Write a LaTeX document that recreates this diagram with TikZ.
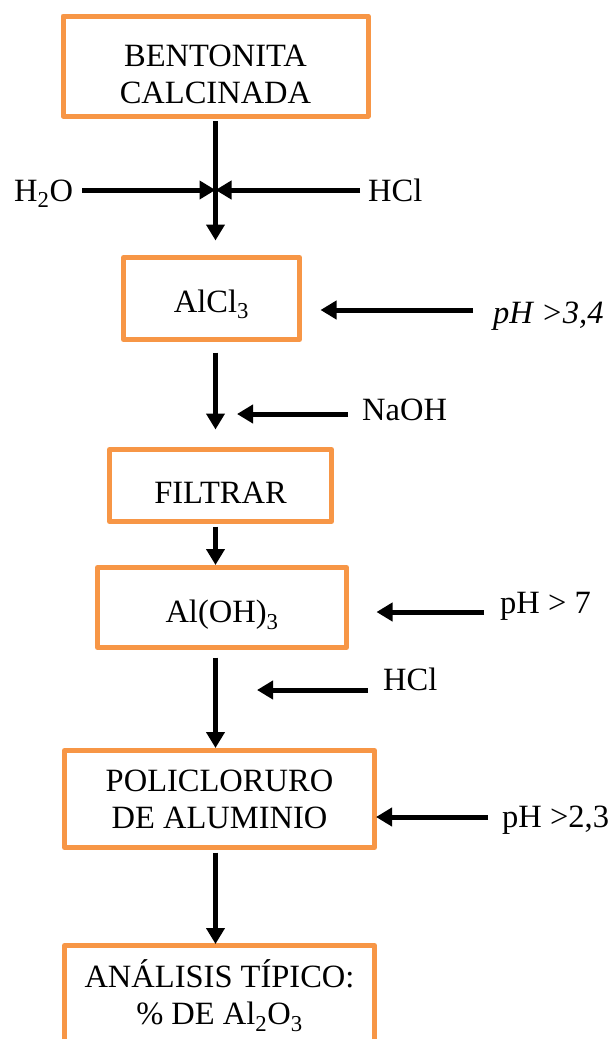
\documentclass[tikz,border=0pt]{standalone}
\usepackage{fontspec}
\setmainfont{Liberation Serif}
\usetikzlibrary{arrows.meta}

\begin{document}
\begin{tikzpicture}[x=1pt, y=-1pt, line join=round,
  font=\fontsize{32.5}{37}\selectfont,
  box/.style={draw=boxorange, line width=5pt, align=center, inner sep=0pt},
  flow/.style={line width=5pt, -{Triangle[length=16pt,width=18pt]}},
  tag/.style={anchor=base west, inner sep=0pt}]

% Colors
\definecolor{boxorange}{RGB}{247,150,70}

% Background
\clip (0,0) rectangle (608,1039);
\fill[white] (0,0) rectangle (608,1039);

% Process boxes
\node[box, minimum width=305, minimum height=100, text height=76pt] (bent) at (215.5,66) {BENTONITA\\CALCINADA};
\node[box, minimum width=176, minimum height=82, text height=27.5pt, text depth=0pt] (alcl) at (211.5,298.5) {AlCl\textsubscript{3}};
\node[box, minimum width=222, minimum height=72, text height=35.5pt] (filt) at (220.5,485.5) {FILTRAR};
\node[box, minimum width=249, minimum height=80, text height=30.5pt, text depth=0pt] (hyd) at (222,607.5) {Al(OH)\textsubscript{3}};
\node[box, minimum width=310, minimum height=97] (poly) at (219.5,799) {POLICLORURO\\DE ALUMINIO};
\node[box, minimum width=310, minimum height=100] (anal) at (219.5,995.5) {ANÁLISIS TÍPICO:\\\% DE Al\textsubscript{2}O\textsubscript{3}};

% Reagents and conditions
\node[tag] (h2o) at (14,201) {H\textsubscript{2}O};
\node[tag] (hcla) at (368,201) {HCl};
\node[tag] (ph34) at (493,323.5) {\textit{pH >3,4}};
\node[tag] (naoh) at (362,420.5) {NaOH};
\node[tag] (ph7) at (500,613.5) {pH > 7};
\node[tag] (hclb) at (383,690) {HCl};
\node[tag] (ph23) at (502,827) {pH >2,3};

% Arrow ends
\coordinate (spine) at (215.5,0);
\coordinate (mix) at (215.5,190);
\coordinate (h2oin) at (82,190);
\coordinate (hclain) at (360,190);
\coordinate (ph34in) at (473,310);
\coordinate (naohin) at (348,414);
\coordinate (ph7in) at (484,612);
\coordinate (hclbin) at (368,690);
\coordinate (ph23in) at (488,817);

% Main line
\draw[flow, shorten <=2.5pt] (bent.south -| spine) -- ([yshift=14.5pt]alcl.north -| spine);
\draw[flow, shorten <=10.5pt] (alcl.south -| spine) -- ([yshift=17.5pt]filt.north -| spine);
\draw[flow, shorten <=2.5pt] (filt.south -| spine) -- (hyd.north -| spine);
\draw[flow, shorten <=7.5pt] (hyd.south -| spine) -- (poly.north -| spine);
\draw[flow, shorten <=2.5pt, shorten >=-1pt] (poly.south -| spine) -- (anal.north -| spine);

% Side feeds
\draw[flow] (h2oin) -- (mix);
\draw[flow] (hclain) -- (mix);
\draw[flow, shorten >=18.5pt] (ph34in) -- (alcl.east |- ph34in);
\draw[flow, shorten >=21.5pt] (naohin) -- (naohin -| spine);
\draw[flow, shorten >=27.5pt] (ph7in) -- (hyd.east |- ph7in);
\draw[flow, shorten >=41.5pt] (hclbin) -- (hclbin -| spine);
\draw[flow, shorten >=-1pt] (ph23in) -- (poly.east |- ph23in);
\end{tikzpicture}
\end{document}
